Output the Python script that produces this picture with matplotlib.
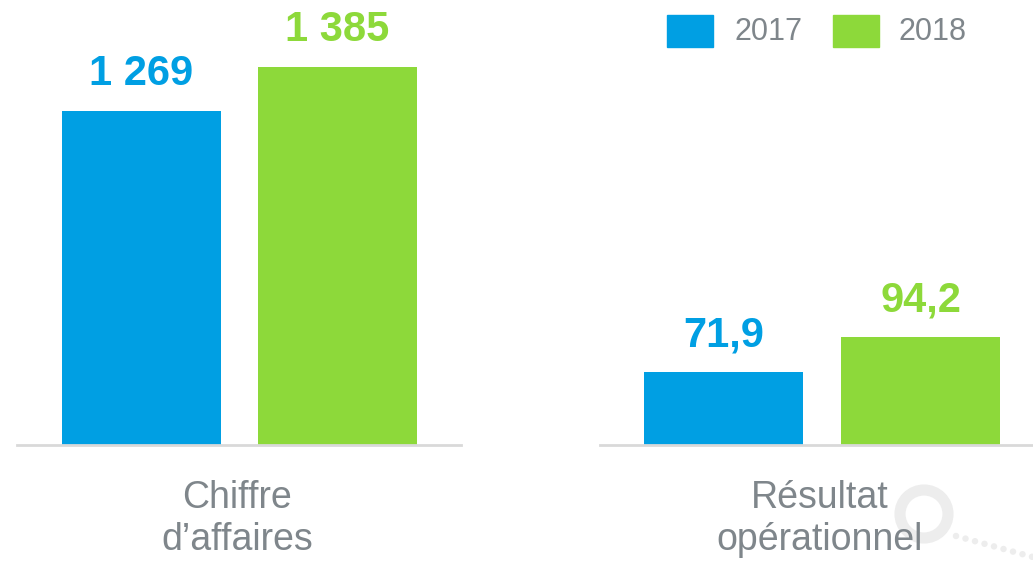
import matplotlib.pyplot as plt
from matplotlib.patches import Rectangle, Circle

plt.rcParams['font.family'] = ['Liberation Sans', 'DejaVu Sans']

years = ['2017', '2018']
colors = ['#009FE3', '#8DD93A']
gray = '#7F868B'

# chiffre d'affaires et resultat operationnel
ca = [1269, 1385]
ro = [71.9, 94.2]
cats = ['Chiffre\nd\u2019affaires', 'R\u00e9sultat\nop\u00e9rationnel']

fig = plt.figure(figsize=(10.33, 5.61), dpi=100)
W, H = 1033, 561

# filigrane discret en bas a droite
deco = fig.add_axes([0, 0, 1, 1])
deco.set_xlim(0, W)
deco.set_ylim(H, 0)
deco.set_aspect('equal')
deco.axis('off')
deco.add_patch(Circle((924, 514), 24, fill=False, ec='#EDEDED', lw=8))
for i in range(9):
    deco.add_patch(Circle((956 + i * 9.5, 536 + i * 2.6), 3.2, color='#EDEDED', lw=0))

def make_ax(x0, x1, xlim, ylim):
    ax = fig.add_axes([x0 / W, (H - 445) / H, (x1 - x0) / W, 445 / H])
    for s in ['top', 'right', 'left']:
        ax.spines[s].set_visible(False)
    ax.spines['bottom'].set_color('#D9D9D9')
    ax.spines['bottom'].set_linewidth(2)
    ax.set_xticks([])
    ax.set_yticks([])
    ax.patch.set_alpha(0)
    return ax, xlim, ylim

def draw(axinfo, vals, fmt):
    ax, xlim, ylim = axinfo
    bars = ax.bar([0, 1], vals, width=0.81, color=colors, zorder=2)
    ax.set_xlim(*xlim)
    ax.set_ylim(*ylim)
    for b, v, c in zip(bars, vals, colors):
        ax.annotate(fmt(v), (b.get_x() + b.get_width() / 2, v),
                    xytext=(0, 12), textcoords='offset points',
                    ha='center', va='bottom', fontsize=30, fontweight='bold', color=c)

draw(make_ax(17, 461, (-0.635, 1.63), (389, 1562)), ca,
     lambda v: f"{v:,.0f}".replace(",", " "))
draw(make_ax(600, 1033, (-0.627, 1.571), (25.4, 308.9)), ro,
     lambda v: f"{v:.1f}".replace(".", ","))

fig.text(237 / W, 1 - 519 / H, cats[0], ha='center', va='center', fontsize=27,
         color=gray, linespacing=1.2)
fig.text(820 / W, 1 - 519 / H, cats[1], ha='center', va='center', fontsize=27,
         color=gray, linespacing=1.2)

# legende
for x0, xt, y, c in [(667, 734, years[0], colors[0]), (833, 899, years[1], colors[1])]:
    fig.patches.append(Rectangle((x0 / W, 1 - 47 / H), 46 / W, 32 / H,
                                 transform=fig.transFigure, color=c, figure=fig))
    fig.text(xt / W, 1 - 32 / H, y, ha='left', va='center', fontsize=22, color=gray)

fig.savefig('out.png', dpi=100)
